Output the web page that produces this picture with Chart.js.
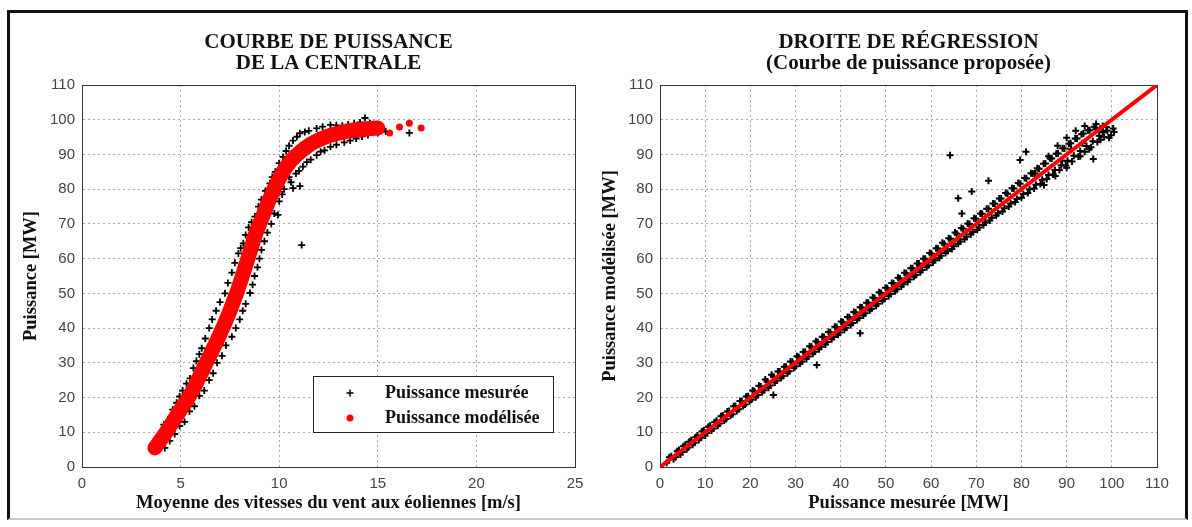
<!DOCTYPE html>
<html><head><meta charset="utf-8">
<script src="https://cdn.jsdelivr.net/npm/chart.js@4.4.1/dist/chart.umd.min.js"></script>
<style>
html,body{margin:0;padding:0;background:#fff;}
#wrap{position:relative;width:1192px;height:527px;overflow:hidden;background:#fff;}
#frame{position:absolute;left:7px;top:10px;width:1175px;height:505px;border:3px solid #111;border-bottom:2px solid #c8c8c8;}
canvas{position:absolute;top:0;}
</style></head><body>
<div id="wrap"><div id="frame"></div>
<canvas id="c1" width="596" height="527" style="left:0"></canvas>
<canvas id="c2" width="596" height="527" style="left:596px"></canvas>
</div>
<script>
// ---------- DATA ----------
const windTicks = [0, 5, 10, 15, 20, 25];
const powerTicks = [0, 10, 20, 30, 40, 50, 60, 70, 80, 90, 100, 110];

// Left chart: measured power vs wind speed (black +)
const measuredCurve = [
[3.7,5.9],[3.85,7.8],[4.0,9.5],[4.2,5.5],[4.3,11.8],[4.5,14.5],[4.7,9.5],[4.8,18.5],[5.1,22],[5.2,13],
[5.48,25.5],[5.7,17.5],[5.8,30.5],[6.07,34.2],[6.2,22],[6.45,40],[6.65,27],[6.8,45],[7.1,32],[7.25,50],
[7.6,56],[7.6,37.5],[7.93,61.5],[8.0,42.5],[8.18,64.4],[8.3,47],[8.45,69],[8.52,50.1],[8.75,55],[8.77,72.1],
[9.0,60],[9.1,77],[9.25,65],[9.53,81.7],[9.6,70],[9.8,85],[9.94,72.6],[10.0,76.5],[10.2,89.3],[10.25,80],
[10.5,92.5],[10.5,83.5],[10.85,84.5],[10.9,95.1],[11.05,96.1],[11.2,86.5],[11.5,96.8],[11.6,88.5],[11.9,97.5],[11.9,89.8],
[12.3,91.2],[12.6,98.5],[12.6,92.2],[13.2,98.3],[13.3,93.5],[13.8,98.9],[13.9,94.6],[14.35,100.5],[14.5,95.6],[14.8,98.7],
[15.0,96.2],[15.4,96.6],[16.6,96.2],[11.14,63.9],[10.7,80.3],[11.05,80.9],
[4.15,12.2],[4.6,16.5],[4.95,20.3],[5.3,24],[5.65,28.5],[5.95,32.5],[6.25,37],[6.6,42.5],[7.0,47.5],[7.4,53],
[7.75,58.8],[8.05,63],[8.3,66.8],[8.6,70.5],[8.95,75],[9.3,79.5],[9.65,83.5],[10.0,87.5],[10.35,91],[10.7,94],
[11.3,96.5],[12.2,98],[12.9,98.4],[13.5,98.6],[14.1,99.2],[14.6,99],
[4.45,7.5],[4.95,11.8],[5.45,16],[5.95,20.5],[6.45,25],[6.85,30],[7.3,35],[7.8,40],[8.15,45],[8.65,52.5],
[8.9,57.5],[9.1,62.5],[9.4,67.5],[9.75,73],[10.15,78.5],[10.6,82],[11.0,85.3],[11.4,87.8],[12.1,90.8],[12.9,92.8],
[13.6,94],[14.2,95.2]
];

// Left chart: modelled power curve (red)
const modelWind  = [3.7,4.2,4.6,5.0,5.4,5.7,6.0,6.3,6.6,6.9,7.15,7.4,7.65,7.9,8.1,8.3,8.55,8.8,9.15,9.5,9.75,10.0,10.25,10.5,10.75,11.0,11.3,11.6,11.9,12.2,12.6,13.0,13.5,14.0,14.5,15.0];
const modelPower = [5.5,9.5,13.0,16.5,20.0,23.0,26.5,30.0,33.5,37.0,40.2,43.5,47.2,51.0,54.5,58.0,62.5,67.0,72.0,77.0,80.2,83.0,85.5,87.5,89.1,90.4,91.8,93.0,93.9,94.7,95.5,96.1,96.7,97.1,97.4,97.6];
const modelTail = [[15.6,96.2],[16.1,97.9],[16.6,99.0],[17.2,97.6]];

// Right chart: modelled vs measured power (black +)
const regressionPoints = [
[2.1,2.8],[3.0,2.2],[3.8,4.5],[4.5,3.6],[5.2,6.0],[5.9,5.1],[6.5,7.3],[7.2,6.4],[7.9,8.6],[8.6,7.8],
[9.3,10.2],[10.0,9.1],[10.7,11.6],[11.4,10.5],[12.1,12.9],[12.8,11.9],[13.5,14.6],[14.2,13.4],[14.9,16.0],[15.6,14.8],
[16.3,17.5],[17.0,16.1],[17.7,19.0],[18.4,17.6],[19.1,20.3],[19.8,18.9],[20.5,22.0],[21.2,20.1],[21.9,23.4],[22.6,21.5],
[23.3,25.2],[24.0,22.8],[24.7,26.6],[25.4,24.3],[26.1,27.5],[26.8,25.6],[27.5,28.9],[28.2,27.0],[28.9,30.4],[29.6,28.5],
[30.3,31.9],[31.0,29.8],[31.7,33.1],[32.4,31.2],[33.1,34.8],[33.8,32.6],[34.5,36.2],[35.2,33.9],[35.9,37.5],[36.6,35.3],
[37.3,38.9],[38.0,36.8],[38.7,40.4],[39.4,38.1],[40.1,41.9],[40.8,39.5],[41.5,43.2],[42.2,40.9],[42.9,44.6],[43.6,42.3],
[44.3,46.0],[45.0,43.6],[45.7,47.3],[46.4,45.1],[47.1,48.8],[47.8,46.4],[48.5,50.3],[49.2,47.8],[49.9,51.6],[50.6,49.2],
[51.3,53.0],[52.0,50.6],[52.7,54.5],[53.4,52.0],[54.1,55.9],[54.8,53.3],[55.5,57.2],[56.2,54.8],[56.9,58.6],[57.6,56.1],
[58.3,60.0],[59.0,57.5],[59.7,61.6],[60.4,58.9],[61.1,63.0],[61.8,60.2],[62.5,64.6],[63.2,61.6],[63.9,65.9],[64.6,62.8],
[65.3,67.5],[66.0,64.3],[66.7,68.8],[67.4,65.6],[68.1,70.1],[68.8,67.0],[69.5,71.6],[70.2,68.3],[70.9,73.0],[71.6,69.7],
[72.3,74.4],[73.0,71.0],[73.7,75.9],[74.4,72.4],[75.1,77.3],[75.8,73.6],[76.5,78.9],[77.2,75.0],[77.9,80.3],[78.6,76.3],
[79.3,81.8],[80.0,77.5],[80.7,83.2],[81.4,78.9],[82.1,84.6],[82.8,80.2],[83.5,86.0],[84.2,81.5],[84.9,87.3],[85.6,82.9],
[86.3,88.9],[87.0,84.2],[87.7,90.2],[88.4,85.5],[89.1,91.8],[89.8,86.8],[90.5,93.1],[91.2,88.0],[91.9,94.6],[92.6,89.4],
[93.3,95.8],[94.0,90.8],[94.7,97.0],[95.4,92.1],[96.1,98.0],[96.8,93.6],[97.5,97.2],[98.3,95.0],[99.0,96.8],[99.8,95.5],
[86.0,89.5],[88.0,92.5],[90.0,94.8],[92.0,96.8],[94.0,98.2],[96.5,98.8],[85.0,81.2],[87.5,83.8],[90.0,86.2],[93.0,89.5],
[95.0,91.5],[97.5,94.2],[83.0,84.5],[91.0,91.5],[93.5,93.2],[89.0,88.2],[98.0,98.2],
[64.2,89.8],[66.0,77.4],[66.8,73.0],[69.0,79.3],[72.7,82.4],[79.7,88.4],[81.0,90.8],[95.9,88.7],[100.3,97.5],
[44.3,38.5],[34.7,29.4],[25.1,20.7],
[1.5,1.2],[2.5,3.1],[3.4,2.9],[4.2,4.9],[4.9,4.3],[5.6,6.4],[6.2,5.6],[6.9,7.7],[7.6,7.0],[8.3,9.1],
[9.0,8.4],[9.7,10.5],[10.4,9.8],[11.1,11.9],[11.8,11.1],[12.5,13.3],[13.2,12.5],[13.9,14.8],[14.6,13.8],[15.3,16.1],
[16.0,15.2],[16.7,17.6],[17.4,16.6],[18.1,18.9],[18.8,18.0],[19.5,20.4],[20.2,19.4],[20.9,21.8],[21.6,20.7],[22.3,23.2],
[23.0,22.1],[23.7,24.6],[24.4,23.5],[25.1,26.0],[25.8,24.9],[26.5,27.5],[27.2,26.2],[27.9,28.9],[28.6,27.6],[29.3,30.3],
[30.0,29.0],[30.7,31.7],[31.4,30.4],[32.1,33.2],[32.8,31.8],[33.5,34.6],[34.2,33.2],[34.9,36.0],[35.6,34.6],[36.3,37.4],
[37.0,36.0],[37.7,38.8],[38.4,37.4],[39.1,40.3],[39.8,38.7],[40.5,41.7],[41.2,40.1],[41.9,43.1],[42.6,41.5],[43.3,44.5],
[44.0,42.9],[44.7,45.9],[45.4,44.3],[46.1,47.3],[46.8,45.6],[47.5,48.7],[48.2,47.0],[48.9,50.1],[49.6,48.4],[50.3,51.5],
[51.0,49.8],[51.7,52.9],[52.4,51.2],[53.1,54.3],[53.8,52.6],[54.5,55.8],[55.2,54.0],[55.9,57.2],[56.6,55.3],[57.3,58.6],
[58.0,56.7],[58.7,60.0],[59.4,58.1],[60.1,61.4],[60.8,59.5],[61.5,62.9],[62.2,60.8],[62.9,64.3],[63.6,62.2],[64.3,65.7],
[65.0,63.6],[65.7,67.2],[66.4,64.9],[67.1,68.6],[67.8,66.3],[68.5,70.0],[69.2,67.7],[69.9,71.5],[70.6,69.0],[71.3,72.9],
[72.0,70.4],[72.7,74.4],[73.4,71.8],[74.1,75.8],[74.8,73.1],[75.5,77.3],[76.2,74.5],[76.9,78.7],[77.6,75.9],[78.3,80.2],
[79.0,77.2],[79.7,81.6],[80.4,78.6],[81.1,83.1],[81.8,80.0],[82.5,84.5],[83.2,81.3],[83.9,85.9],[84.6,82.7],[85.3,87.4],
[86.0,84.1],[86.7,88.8],[87.4,85.5],[88.1,90.3],[88.8,86.9],[89.5,91.7],[90.2,88.2],[90.9,93.2],[91.6,89.6],[92.3,94.6],
[93.0,91.0],[93.7,96.0],[94.4,92.4],[95.1,97.0],[95.8,93.8],[96.5,97.6],[97.2,95.4],[98.0,96.4],[98.8,97.9],[99.4,94.8],
[100.5,96.5]
];
const regressionX = [0, 110];
const regressionY = [0, 110];

// ---------- STYLE HELPERS ----------
const serif = "'Liberation Serif', 'DejaVu Serif', serif";
const sans = "'Liberation Sans', Arial, sans-serif";
const tickFont = {family: sans, size: 15};
const tickColor = '#444';
const axisTitleFont = {family: serif, size: 18.5, weight: 'bold', lineHeight: 1.2};
const gridStyle = {display: true, color: '#a8a8a8', lineWidth: 1, drawTicks: false};
const borderStyle = {display: true, color: '#333', width: 1, dash: [2, 3]};

function pts(pairs) { return pairs.map(p => ({x: p[0], y: p[1]})); }
function zip(xs, ys) { return xs.map((x, i) => ({x: x, y: ys[i]})); }

function makeScales(xTicks, yTicks, xTitle, yTitle, yWidth) {
  const xMax = xTicks[xTicks.length - 1], yMax = yTicks[yTicks.length - 1];
  return {
    x: {type: 'linear', position: 'bottom', min: 0, max: xMax,
        afterBuildTicks: s => { s.ticks = xTicks.map(v => ({value: v})); },
        afterFit: s => { s.height = 47; },
        grid: gridStyle, border: borderStyle,
        ticks: {font: tickFont, color: tickColor, padding: 8, maxRotation: 0, autoSkip: false},
        title: {display: true, text: xTitle, font: axisTitleFont, color: '#111', padding: 0}},
    y: {type: 'linear', position: 'left', min: 0, max: yMax,
        afterBuildTicks: s => { s.ticks = yTicks.map(v => ({value: v})); },
        afterFit: s => { s.width = yWidth; },
        grid: gridStyle, border: borderStyle,
        ticks: {font: tickFont, color: tickColor, padding: 7, autoSkip: false},
        title: {display: true, text: yTitle, font: axisTitleFont, color: '#111', padding: 0}},
    xTop: {type: 'linear', position: 'top', min: 0, max: xMax, grid: {display: false},
        ticks: {display: false}, border: {display: true, color: '#333', width: 1},
        afterFit: s => { s.height = 0; }},
    yRight: {type: 'linear', position: 'right', min: 0, max: yMax, grid: {display: false},
        ticks: {display: false}, border: {display: true, color: '#333', width: 1},
        afterFit: s => { s.width = 0; }}
  };
}

function titleOpts(lines) {
  return {display: true, text: lines, fullSize: false, color: '#111',
          font: {family: serif, size: 21, weight: 'bold', lineHeight: 1.0},
          padding: {top: 12.5, bottom: 10.5}};
}

// Legend drawn inside the plot area (MATLAB style box)
const boxLegend = {
  id: 'boxLegend',
  afterDatasetsDraw(chart) {
    const ctx = chart.ctx, a = chart.chartArea;
    const w = 240, h = 56;
    const x0 = a.right - 22 - w, y0 = a.bottom - 35 - h;
    ctx.save();
    ctx.fillStyle = '#fff';
    ctx.fillRect(x0, y0, w, h);
    ctx.strokeStyle = '#222';
    ctx.lineWidth = 1;
    ctx.strokeRect(x0 + 0.5, y0 + 0.5, w, h);
    const items = chart.data.datasets.filter(d => !d.legendHidden);
    items.forEach((d, i) => {
      const y = y0 + 17 + i * 25, mx = x0 + 37;
      if (d.pointStyle === 'cross') {
        ctx.strokeStyle = d.borderColor; ctx.lineWidth = 1.5;
        ctx.beginPath();
        ctx.moveTo(mx - 3.5, y); ctx.lineTo(mx + 3.5, y);
        ctx.moveTo(mx, y - 3.5); ctx.lineTo(mx, y + 3.5);
        ctx.stroke();
      } else {
        ctx.fillStyle = d.pointBackgroundColor || d.borderColor;
        ctx.beginPath(); ctx.arc(mx, y, 3.5, 0, Math.PI * 2); ctx.fill();
      }
      ctx.fillStyle = '#111';
      ctx.font = 'bold 18px ' + serif;
      ctx.textBaseline = 'middle';
      ctx.textAlign = 'left';
      ctx.fillText(d.label, x0 + 72, y);
    });
    ctx.restore();
  }
};

const common = {responsive: false, animation: false, devicePixelRatio: 1, events: []};

// ---------- LEFT CHART ----------
new Chart(document.getElementById('c1'), {
  type: 'scatter',
  data: {datasets: [
    {label: 'Puissance mesurée', data: pts(measuredCurve), pointStyle: 'cross', pointRadius: 3.5,
     borderColor: '#000', borderWidth: 1.8, order: 2},
    {label: 'Puissance modélisée', data: zip(modelWind, modelPower), showLine: true,
     borderColor: '#ff0000', backgroundColor: '#ff0000', pointBackgroundColor: '#ff0000',
     borderWidth: 15, borderCapStyle: 'round', borderJoinStyle: 'round',
     cubicInterpolationMode: 'monotone', pointRadius: 3.5, pointBorderWidth: 0, order: 1},
    {label: 'Puissance modélisée (fin)', legendHidden: true, data: pts(modelTail), pointStyle: 'circle',
     pointRadius: 3.5, backgroundColor: '#ff0000', borderColor: '#ff0000', borderWidth: 0, order: 0}
  ]},
  options: Object.assign({}, common, {
    layout: {padding: {left: 20, right: 21, top: 20, bottom: 13}},
    scales: makeScales(windTicks, powerTicks, 'Moyenne des vitesses du vent aux éoliennes [m/s]', 'Puissance [MW]', 62),
    plugins: {legend: {display: false}, tooltip: {enabled: false},
              title: titleOpts(['COURBE DE PUISSANCE', 'DE LA CENTRALE'])}
  }),
  plugins: [boxLegend]
});

// ---------- RIGHT CHART ----------
new Chart(document.getElementById('c2'), {
  type: 'scatter',
  data: {datasets: [
    {label: 'Puissance modélisée vs mesurée', data: pts(regressionPoints), pointStyle: 'cross', pointRadius: 3.5,
     borderColor: '#000', borderWidth: 2, order: 1},
    {label: 'Droite de régression', data: zip(regressionX, regressionY), showLine: true,
     borderColor: '#ff0000', borderWidth: 4, pointRadius: 0, order: 0}
  ]},
  options: Object.assign({}, common, {
    layout: {padding: {left: 3, right: 35, top: 20, bottom: 13}},
    scales: makeScales(powerTicks, powerTicks, 'Puissance mesurée [MW]', 'Puissance modélisée [MW]', 61),
    plugins: {legend: {display: false}, tooltip: {enabled: false},
              title: titleOpts(['DROITE DE RÉGRESSION', '(Courbe de puissance proposée)'])}
  })
});
</script>
</body></html>
